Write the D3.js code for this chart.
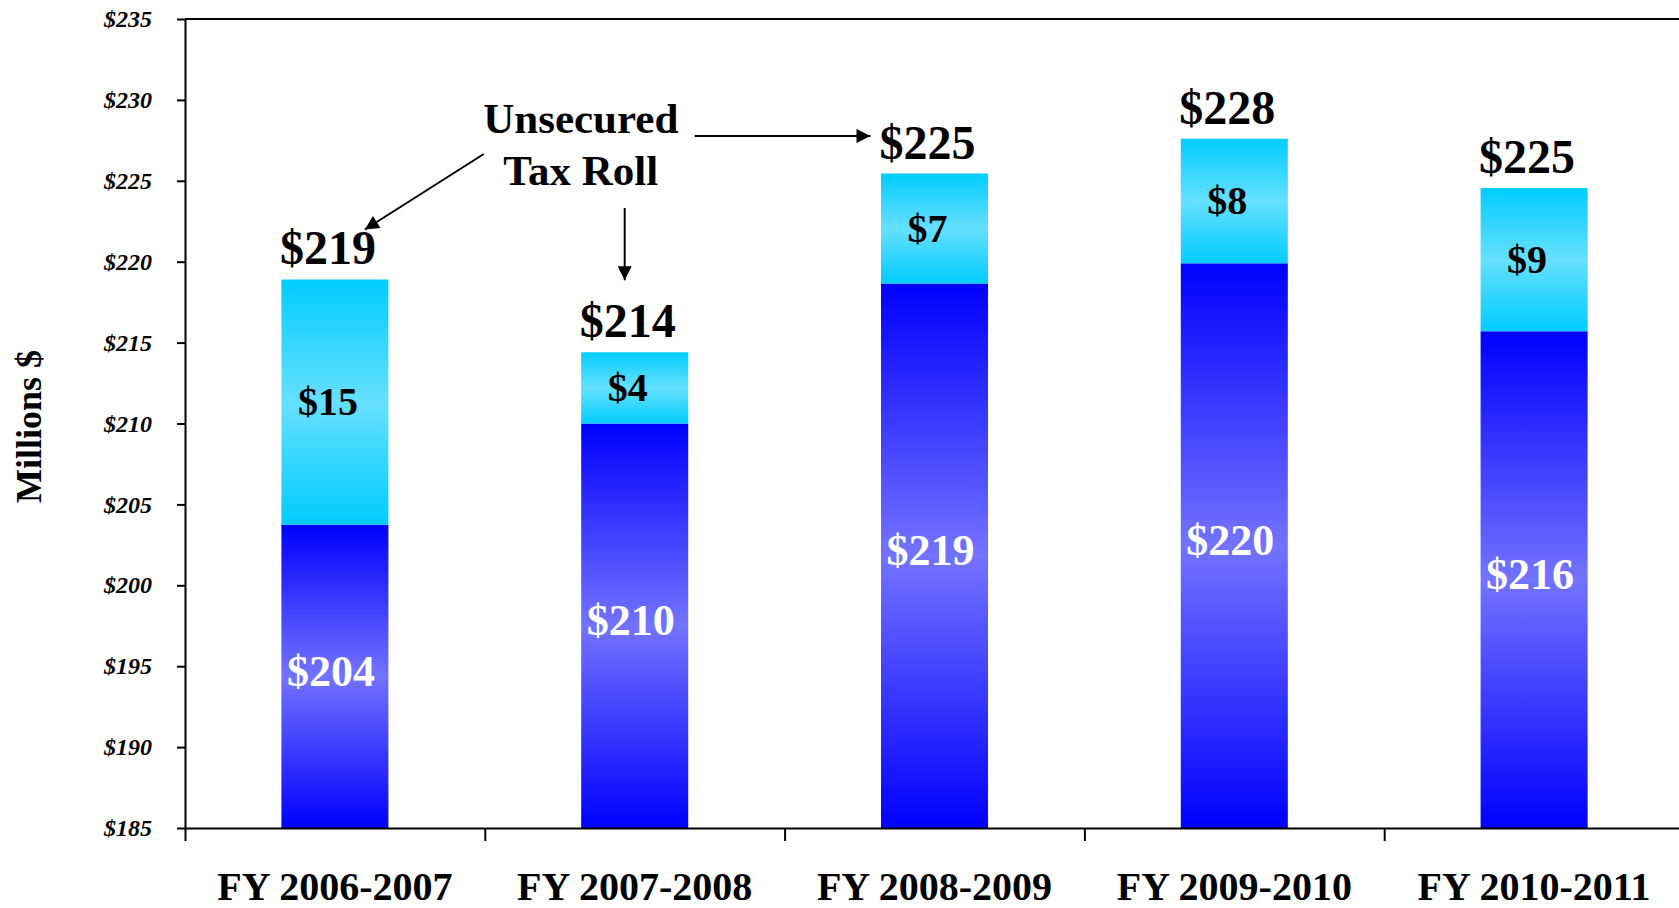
<!DOCTYPE html>
<html>
<head>
<meta charset="utf-8">
<script src="https://cdn.jsdelivr.net/npm/d3@7"></script>
<style>
  body { margin: 0; background: #fff; }
  svg { display: block; }
  text { font-family: "Times New Roman", "Liberation Serif", serif; font-weight: bold; }
</style>
</head>
<body>
<div id="chart"></div>
<script>
// Данные
const categories = ["FY 2006-2007", "FY 2007-2008", "FY 2008-2009", "FY 2009-2010", "FY 2010-2011"];
const securedValues = [203.75, 210.0, 218.65, 219.9, 215.7];
const unsecuredValues = [15.15, 4.4, 6.8, 7.7, 8.85];
const yTicks = [185, 190, 195, 200, 205, 210, 215, 220, 225, 230, 235];
const annotationLines = ["Unsecured", "Tax Roll"];

const width = 1679, height = 908;
const plot = { left: 185, top: 19, bottom: 828, right: 1684 };

const svg = d3.select('#chart').append('svg')
    .attr('width', width)
    .attr('height', height);

const defs = svg.append('defs');

// Градиенты
function addGradient(id, edge, middle) {
    const g = defs.append('linearGradient')
        .attr('id', id)
        .attr('x1', 0).attr('y1', 0).attr('x2', 0).attr('y2', 1);
    g.append('stop').attr('offset', '0%').attr('stop-color', edge);
    g.append('stop').attr('offset', '50%').attr('stop-color', middle);
    g.append('stop').attr('offset', '100%').attr('stop-color', edge);
}
addGradient('gradSecured', '#0000ff', '#7373ff');
addGradient('gradUnsecured', '#00ccff', '#66e0ff');

defs.append('marker')
    .attr('id', 'arrow')
    .attr('viewBox', '0 0 10 10')
    .attr('refX', 10).attr('refY', 5)
    .attr('markerWidth', 15).attr('markerHeight', 14)
    .attr('markerUnits', 'userSpaceOnUse')
    .attr('orient', 'auto')
    .append('path')
    .attr('d', 'M0,0 L10,5 L0,10 Z')
    .attr('fill', '#000');

// Шкалы
const x = d3.scaleBand()
    .domain(categories)
    .range([plot.left, plot.right])
    .padding(0);

const y = d3.scaleLinear()
    .domain([185, 235])
    .range([plot.bottom, plot.top])
    .clamp(true);

const barW = x.bandwidth() * 0.357;
const cx = c => x(c) + x.bandwidth() / 2;

const rows = categories.map((c, i) => ({
    category: c,
    secured: securedValues[i],
    unsecured: unsecuredValues[i]
}));

const stack = d3.stack().keys(['secured', 'unsecured']);
const series = stack(rows);

// Столбцы
const fills = { secured: 'url(#gradSecured)', unsecured: 'url(#gradUnsecured)' };
svg.append('g')
    .selectAll('g')
    .data(series)
    .join('g')
    .attr('fill', s => fills[s.key])
    .selectAll('rect')
    .data(s => s)
    .join('rect')
    .attr('x', d => cx(d.data.category) - barW / 2)
    .attr('y', d => y(d[1]))
    .attr('width', barW)
    .attr('height', d => y(d[0]) - y(d[1]));

// Подписи внутри столбцов
const money = v => '$' + Math.round(v);

svg.append('g')
    .selectAll('text')
    .data(series[0])
    .join('text')
    .attr('x', d => cx(d.data.category) - 4)
    .attr('y', d => (y(d[0]) + y(d[1])) / 2 - 6)
    .attr('dy', '0.35em')
    .attr('text-anchor', 'middle')
    .attr('fill', '#fff')
    .style('font-size', '44px')
    .text(d => money(d.data.secured));

svg.append('g')
    .selectAll('text')
    .data(series[1])
    .join('text')
    .attr('x', d => cx(d.data.category) - 7)
    .attr('y', d => (y(d[0]) + y(d[1])) / 2)
    .attr('dy', '0.33em')
    .attr('text-anchor', 'middle')
    .attr('fill', '#000')
    .style('font-size', '40px')
    .text(d => money(d.data.unsecured));

// Итоговые значения
svg.append('g')
    .selectAll('text')
    .data(series[1])
    .join('text')
    .attr('x', d => cx(d.data.category) - 7)
    .attr('y', d => y(d[1]) - 15)
    .attr('text-anchor', 'middle')
    .attr('fill', '#000')
    .style('font-size', '48px')
    .text(d => money(d[1]));

// Ось Y
const yAxis = svg.append('g')
    .attr('transform', `translate(${plot.left},0)`)
    .call(d3.axisLeft(y)
        .tickValues(yTicks)
        .tickSize(8)
        .tickSizeOuter(0)
        .tickPadding(25)
        .tickFormat(d => '$' + d));
yAxis.select('.domain').attr('stroke', '#000').attr('stroke-width', 2);
yAxis.selectAll('.tick line').attr('stroke', '#000').attr('stroke-width', 2);
yAxis.selectAll('.tick text')
    .attr('fill', '#000')
    .style('font-size', '24px')
    .style('font-style', 'italic')
    .style('font-family', '"Times New Roman", "Liberation Serif", serif')
    .style('font-weight', 'bold');

// Верхняя граница области построения
svg.append('line')
    .attr('x1', plot.left).attr('x2', plot.right)
    .attr('y1', y(235)).attr('y2', y(235))
    .attr('stroke', '#000').attr('stroke-width', 2);

// Ось X: деления на границах категорий
const xEdges = d3.scaleLinear().domain([0, categories.length]).range([plot.left, plot.right]);
const xAxis = svg.append('g')
    .attr('transform', `translate(0,${plot.bottom})`)
    .call(d3.axisBottom(xEdges)
        .tickValues(d3.range(0, categories.length + 1))
        .tickSize(13)
        .tickSizeOuter(0)
        .tickFormat(''));
xAxis.select('.domain').attr('stroke', '#000').attr('stroke-width', 2);
xAxis.selectAll('.tick line').attr('stroke', '#000').attr('stroke-width', 2);

svg.append('g')
    .selectAll('text')
    .data(categories)
    .join('text')
    .attr('x', d => cx(d))
    .attr('y', plot.bottom + 72)
    .attr('text-anchor', 'middle')
    .attr('fill', '#000')
    .style('font-size', '40px')
    .text(d => d);

// Подпись оси Y
svg.append('text')
    .attr('transform', `translate(41,${(plot.top + plot.bottom) / 2 + 3}) rotate(-90)`)
    .attr('text-anchor', 'middle')
    .attr('fill', '#000')
    .style('font-size', '36px')
    .text('Millions $');

// Аннотация "Unsecured Tax Roll" со стрелками
const noteX = (cx(categories[0]) + cx(categories[1])) / 2 + 96;
svg.append('g')
    .selectAll('text')
    .data(annotationLines)
    .join('text')
    .attr('x', noteX)
    .attr('y', (d, i) => 133 + i * 52)
    .attr('text-anchor', 'middle')
    .attr('fill', '#000')
    .style('font-size', '43px')
    .text(d => d);

const totals = series[1].map(d => d[1]);
const arrows = [
    [[noteX - 97, 154], [cx(categories[0]) + 30, y(totals[0]) - 50]],
    [[cx(categories[1]) - 10, 208], [cx(categories[1]) - 10, y(totals[1]) - 72]],
    [[noteX + 114, 136], [cx(categories[2]) - 64, 136]]
];
svg.append('g')
    .selectAll('line')
    .data(arrows)
    .join('line')
    .attr('x1', d => d[0][0]).attr('y1', d => d[0][1])
    .attr('x2', d => d[1][0]).attr('y2', d => d[1][1])
    .attr('stroke', '#000')
    .attr('stroke-width', 2)
    .attr('marker-end', 'url(#arrow)');
</script>
</body>
</html>
